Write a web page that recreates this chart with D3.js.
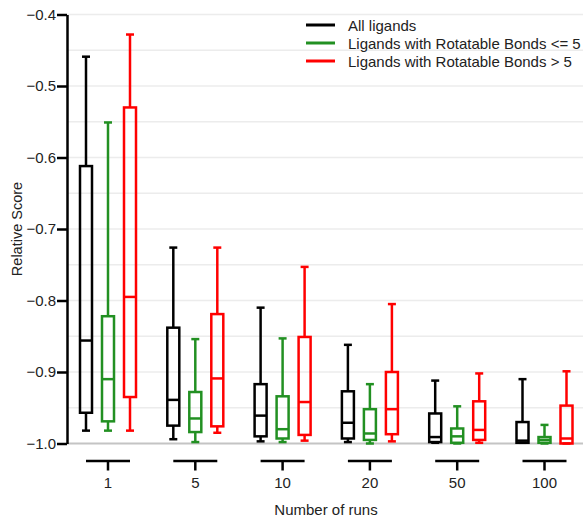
<!DOCTYPE html>
<html>
<head>
<meta charset="utf-8">
<script src="https://cdn.jsdelivr.net/npm/d3@7"></script>
<style>
  body { margin: 0; background: #fff; }
  text { font-family: "Liberation Sans", Arial, sans-serif; }
</style>
</head>
<body>
<div id="chart"></div>
<script>
// number of runs
const runs = ["1", "5", "10", "20", "50", "100"];
const seriesNames = ["All ligands", "Ligands with Rotatable Bonds <= 5", "Ligands with Rotatable Bonds > 5"];
const seriesColors = ["#000000", "#229022", "#ff0000"];

// [whisker low, q1, median, q3, whisker high] per run count
const allLigands = [
  [-0.982, -0.957, -0.856, -0.612, -0.459],
  [-0.994, -0.975, -0.939, -0.838, -0.726],
  [-0.997, -0.990, -0.961, -0.917, -0.810],
  [-0.998, -0.993, -0.971, -0.927, -0.862],
  [-0.999, -0.998, -0.991, -0.958, -0.912],
  [-0.999, -0.999, -0.996, -0.970, -0.910]
];
const fewBonds = [
  [-0.982, -0.969, -0.910, -0.822, -0.551],
  [-0.998, -0.984, -0.965, -0.928, -0.854],
  [-0.998, -0.993, -0.980, -0.934, -0.853],
  [-1.000, -0.995, -0.986, -0.952, -0.917],
  [-1.000, -0.999, -0.990, -0.979, -0.948],
  [-1.000, -0.999, -0.995, -0.991, -0.974]
];
const manyBonds = [
  [-0.982, -0.935, -0.795, -0.530, -0.428],
  [-0.985, -0.976, -0.909, -0.819, -0.726],
  [-0.996, -0.988, -0.942, -0.851, -0.753],
  [-0.997, -0.987, -0.952, -0.900, -0.805],
  [-0.999, -0.995, -0.981, -0.941, -0.902],
  [-1.000, -1.000, -0.993, -0.947, -0.899]
];
const allSeries = [allLigands, fewBonds, manyBonds];
const yTicks = [-1.0, -0.9, -0.8, -0.7, -0.6, -0.5, -0.4];
const gridValues = d3.range(-1.0, -0.399, 0.05);

const W = 583, H = 520;
const svg = d3.select("#chart").append("svg")
  .attr("width", W).attr("height", H);

var y = d3.scaleLinear().domain([-1.0, -0.4]).range([443.5, 14.5]);
var x = d3.scalePoint().domain(runs).range([108, 544.5]);
var off = d3.scalePoint().domain(d3.range(3)).range([-22, 22]);
const boxW = 12, capW = 8;

// gridlines
svg.append("g").selectAll("line").data(gridValues).join("line")
  .attr("x1", 67).attr("x2", W)
  .attr("y1", d => y(d)).attr("y2", d => y(d))
  .attr("stroke", d => Math.abs(d + 1) < 1e-6 ? "#c4c4c4" : "#ececec")
  .attr("stroke-width", d => Math.abs(d + 1) < 1e-6 ? 2 : 1.6);

// y axis
var yAxis = svg.append("g").attr("transform", "translate(67,0)")
  .call(d3.axisLeft(y).tickValues(yTicks).tickFormat(d3.format(".1f")).tickSize(10).tickSizeOuter(0));
yAxis.select(".domain").attr("stroke", "#000").attr("stroke-width", 2.5);
yAxis.selectAll(".tick line").attr("stroke", "#000").attr("stroke-width", 2.5);
yAxis.selectAll(".tick text").attr("x", -11).attr("font-size", "15px")
  .attr("font-family", "Liberation Sans, Arial, sans-serif").attr("fill", "#222");

svg.append("text").attr("transform", "translate(22,229) rotate(-90)")
  .attr("text-anchor", "middle").attr("font-size", "14.5px").attr("fill", "#222")
  .text("Relative Score");

// x axis brackets
var xg = svg.append("g");
runs.forEach(function (r) {
  xg.append("line").attr("x1", x(r) + off(0)).attr("x2", x(r) + off(2))
    .attr("y1", 461).attr("y2", 461).attr("stroke", "#000").attr("stroke-width", 2.5);
  xg.append("line").attr("x1", x(r)).attr("x2", x(r))
    .attr("y1", 461).attr("y2", 470.5).attr("stroke", "#000").attr("stroke-width", 2.5);
  xg.append("text").attr("x", x(r)).attr("y", 488).attr("text-anchor", "middle")
    .attr("font-size", "15px").attr("fill", "#222").text(r);
});
svg.append("text").attr("x", 326).attr("y", 515).attr("text-anchor", "middle")
  .attr("font-size", "15px").attr("fill", "#222").text("Number of runs");

// boxes
allSeries.forEach(function (data, si) {
  var g = svg.append("g").attr("stroke", seriesColors[si]).attr("stroke-width", 2.5).attr("fill", "none");
  data.forEach(function (d, i) {
    var cx = x(runs[i]) + off(si);
    g.append("line").attr("x1", cx).attr("x2", cx).attr("y1", y(d[4])).attr("y2", y(d[3]));
    g.append("line").attr("x1", cx).attr("x2", cx).attr("y1", y(d[1])).attr("y2", y(d[0]));
    g.append("line").attr("x1", cx - capW / 2).attr("x2", cx + capW / 2).attr("y1", y(d[4])).attr("y2", y(d[4]));
    g.append("line").attr("x1", cx - capW / 2).attr("x2", cx + capW / 2).attr("y1", y(d[0])).attr("y2", y(d[0]));
    g.append("rect").attr("x", cx - boxW / 2).attr("width", boxW)
      .attr("y", y(d[3])).attr("height", y(d[1]) - y(d[3]));
    g.append("line").attr("x1", cx - boxW / 2).attr("x2", cx + boxW / 2).attr("y1", y(d[2])).attr("y2", y(d[2]));
  });
});

// legend
var lg = svg.append("g");
seriesNames.forEach(function (name, i) {
  var ly = 25 + i * 18;
  lg.append("line").attr("x1", 306).attr("x2", 335).attr("y1", ly).attr("y2", ly)
    .attr("stroke", seriesColors[i]).attr("stroke-width", 3);
  lg.append("text").attr("x", 348).attr("y", ly + 5.5).attr("font-size", "15px")
    .attr("fill", "#222").text(name);
});
</script>
</body>
</html>
